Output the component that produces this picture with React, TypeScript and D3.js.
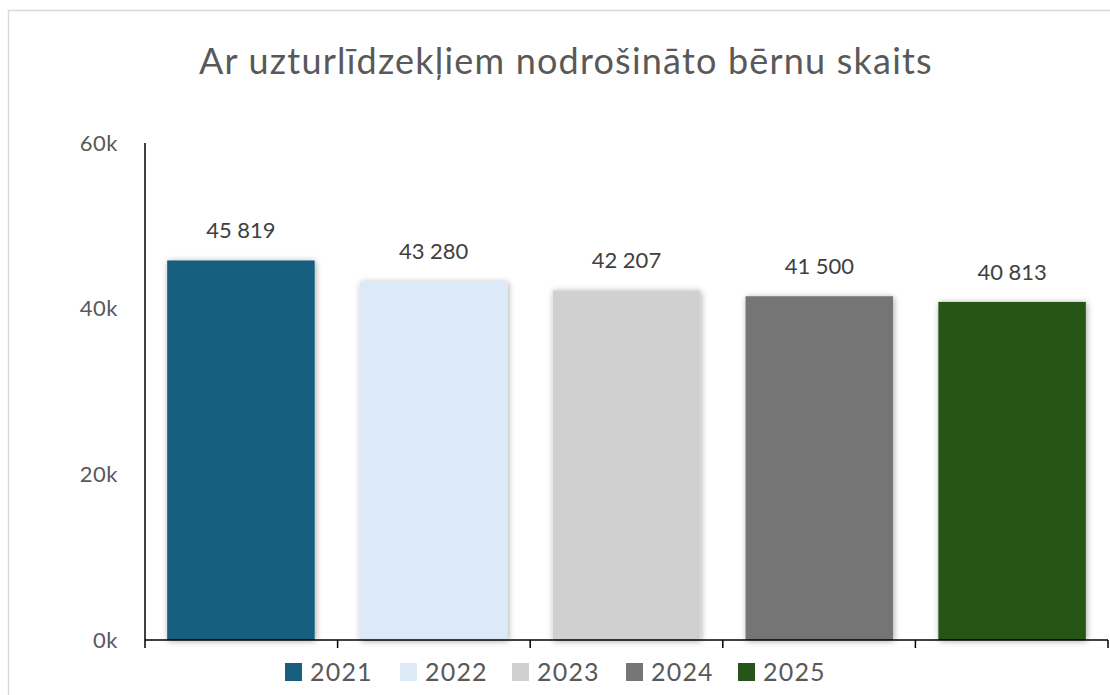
import React from 'react';
import * as d3 from 'd3';

const years = ['2021', '2022', '2023', '2024', '2025'];
const counts = [45819, 43280, 42207, 41500, 40813];
const colors = ['#175e7f', '#dce9f6', '#d0d0d0', '#757575', '#285419'];
const yTicks = [0, 20000, 40000, 60000];

const App = () => {
  const width = 1110;
  const height = 695;
  const left = 145;
  const right = 1108;
  const top = 143;
  const bottom = 640;

  const x = d3.scaleBand<string>().domain(years).range([left, right]).paddingInner(0.235).paddingOuter(0.115);
  const y = d3.scaleLinear().domain([0, 60000]).range([bottom, top]);
  const boundaries = d3.range(years.length + 1).map((i) => left + i * ((right - left) / years.length));
  const fmt = (v: number) => d3.format(',')(v).replace(/,/g, '\u202f');
  const font = 'Lato, "Noto Sans", sans-serif';

  const legendX = [285, 400, 512, 626, 738];

  return (
    <svg width={width} height={height} style={{ position: 'absolute', left: 0, top: 0 }}>
      <defs>
        <filter id="shadow" x="-20%" y="-20%" width="140%" height="140%">
          <feDropShadow dx="1" dy="1" stdDeviation="3" floodColor="#000" floodOpacity="0.35" />
        </filter>
      </defs>
      <rect x={0} y={0} width={width} height={height} fill="#fff" />
      <rect x={8.5} y={10.5} width={width + 10} height={height + 10} fill="none" stroke="#d9d9d9" strokeWidth={1.5} />

      <text x={566} y={74} textAnchor="middle" fontFamily={font} fontSize={36} letterSpacing={1.2} fill="#595959">
        Ar uzturlīdzekļiem nodrošināto bērnu skaits
      </text>

      {yTicks.map((t) => (
        <text key={t} x={118} y={y(t)} dy="0.35em" textAnchor="end" fontFamily={font} fontSize={22} letterSpacing={0.5} fill="#595959">
          {t / 1000}k
        </text>
      ))}

      {years.map((yr, i) => (
        <rect
          key={yr}
          x={x(yr)}
          y={y(counts[i])}
          width={x.bandwidth()}
          height={bottom - y(counts[i])}
          fill={colors[i]}
          filter="url(#shadow)"
        />
      ))}

      {years.map((yr, i) => (
        <text
          key={yr}
          x={(x(yr) as number) + x.bandwidth() / 2}
          y={y(counts[i]) - 22}
          textAnchor="middle"
          fontFamily={font}
          fontSize={22}
          letterSpacing={0.6}
          fill="#404040"
        >
          {fmt(counts[i])}
        </text>
      ))}

      <line x1={left} x2={left} y1={top} y2={bottom} stroke="#000" strokeWidth={1.5} />
      <line x1={left} x2={right} y1={bottom} y2={bottom} stroke="#000" strokeWidth={1.5} />
      {boundaries.map((b, i) => (
        <line key={i} x1={b} x2={b} y1={bottom} y2={bottom + 8} stroke="#000" strokeWidth={1.5} />
      ))}

      {years.map((yr, i) => (
        <g key={yr} transform={`translate(${legendX[i]},663)`}>
          <rect width={17} height={18} fill={colors[i]} />
          <text x={25} y={9} dy="0.36em" fontFamily={font} fontSize={25} letterSpacing={1.2} fill="#595959">
            {yr}
          </text>
        </g>
      ))}
    </svg>
  );
};

export default App;
